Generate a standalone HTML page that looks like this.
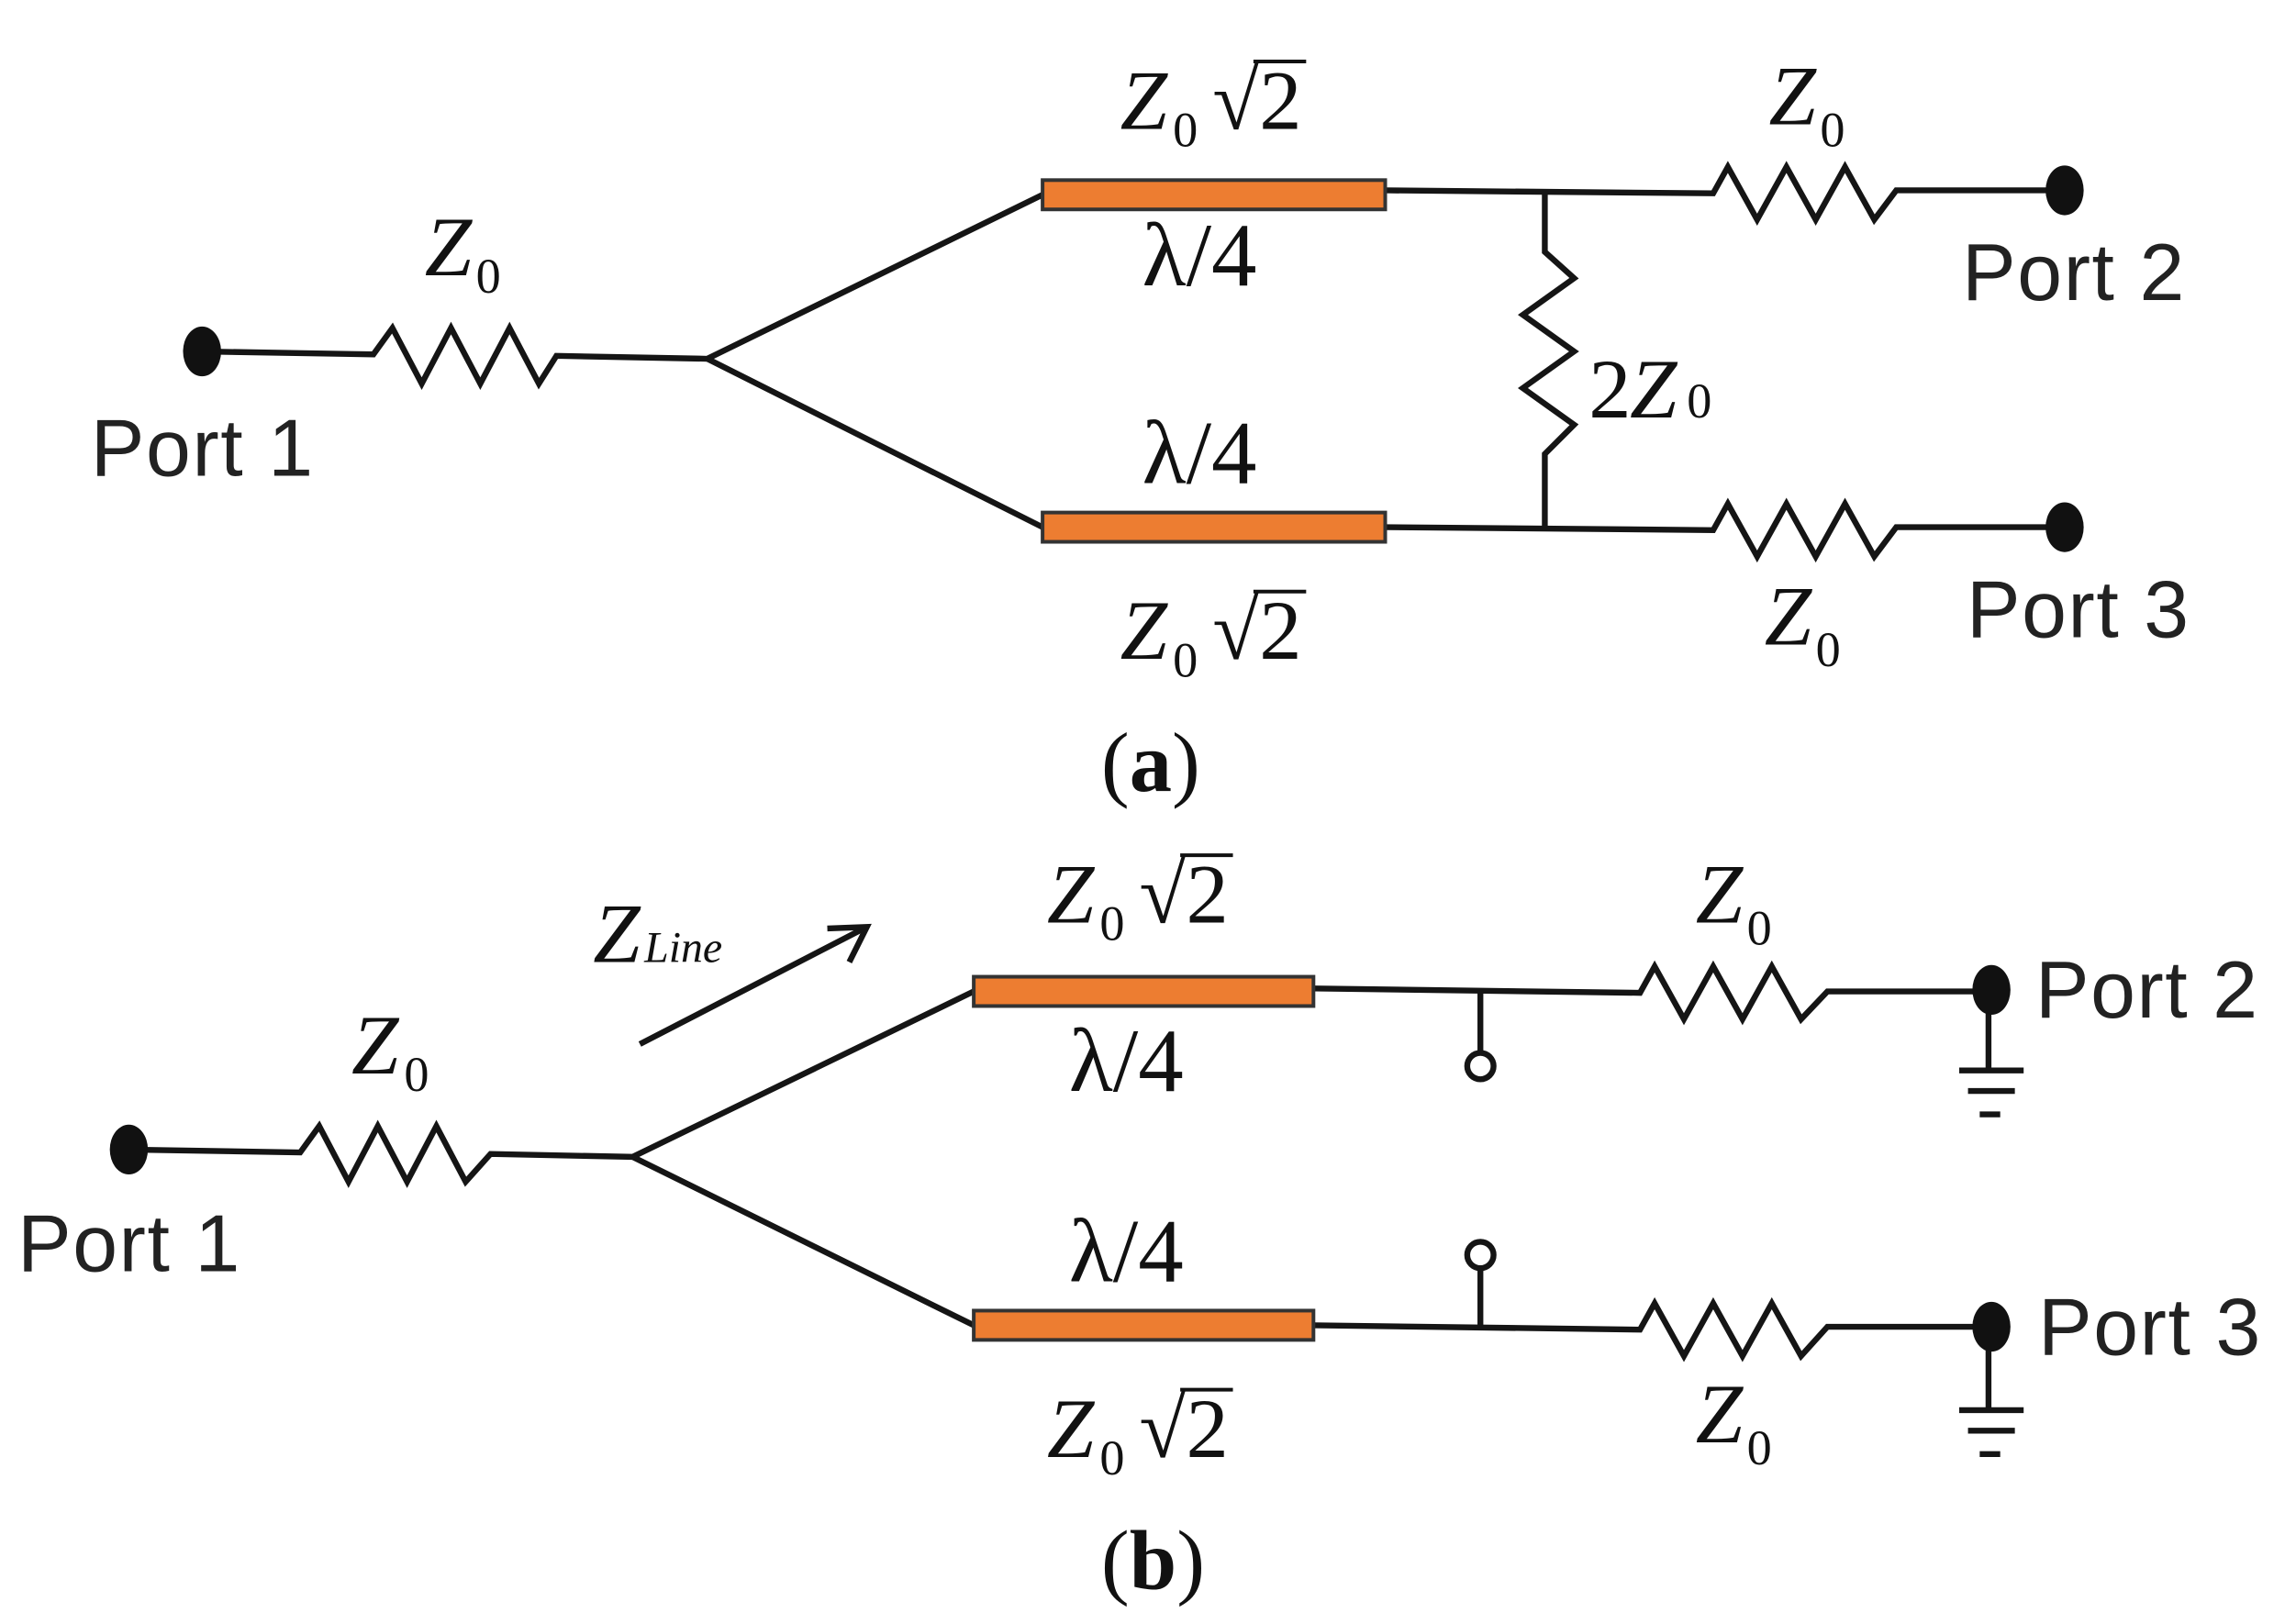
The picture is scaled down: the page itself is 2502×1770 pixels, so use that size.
<!DOCTYPE html>
<html><head><meta charset="utf-8"><style>
html,body{margin:0;padding:0;background:#fff;}
svg{display:block;}
.z{font-family:"Liberation Serif",serif;font-style:italic;font-size:58px;fill:#111;}
.s{font-family:"Liberation Serif",serif;font-size:34px;fill:#111;}
.n{font-family:"Liberation Serif",serif;font-size:58px;fill:#111;}
.l{font-family:"Liberation Serif",serif;font-size:62px;fill:#111;}
.p{font-family:"Liberation Sans",sans-serif;font-size:55px;fill:#222;letter-spacing:1px;}
</style></head><body>
<svg width="2502" height="1770" viewBox="0 0 1568 1109" preserveAspectRatio="none" xmlns="http://www.w3.org/2000/svg">
<defs>
<g id="sq"><text class="n" x="0" y="0">√</text><line x1="28" y1="-46" x2="64" y2="-46" stroke="#111" stroke-width="2.5"/><text class="n" x="32" y="0">2</text></g>
</defs>
<g fill="none" stroke="#151515" stroke-width="4" stroke-linejoin="miter">
<polyline points="138,240 255,242 268,224 288,262 308,224 328,262 348,224 368,262 380,243 483,245 712,133"/>
<polyline points="483,245 712,360"/>
<polyline points="946,130 1170,132 1180,114 1200,150 1220,114 1240,150 1260,114 1280,150 1295,130 1408,130"/>
<polyline points="946,360 1170,362 1180,344 1200,380 1220,344 1240,380 1260,344 1280,380 1295,360 1408,360"/>
<polyline points="1055,132 1055,172 1075,190 1040,215 1075,240 1040,265 1075,290 1055,310 1055,360"/>
<polyline points="88,785 205,787 218,769 238,807 258,769 278,807 298,769 318,807 335,788 432,790 665,677"/>
<polyline points="432,790 665,905"/>
<polyline points="897,675 1120,678 1130,660 1150,696 1170,660 1190,696 1210,660 1230,696 1248,677 1358,677"/>
<polyline points="897,905 1120,908 1130,890 1150,926 1170,890 1190,926 1210,890 1230,926 1248,906 1358,906"/>
<line x1="1011" y1="677" x2="1011" y2="718"/>
<line x1="1011" y1="905" x2="1011" y2="867"/>
<circle cx="1011" cy="728" r="9" stroke-width="4"/>
<circle cx="1011" cy="857" r="9" stroke-width="4"/>
<line x1="1358" y1="677" x2="1358" y2="731"/>
<line x1="1358" y1="906" x2="1358" y2="963"/>
<line x1="437" y1="713" x2="590" y2="634"/>
<polyline points="565,634 592,633 580,657"/>
</g>
<g fill="#151515" stroke="#151515" stroke-width="4">
<line x1="1338" y1="731" x2="1382" y2="731"/><line x1="1344" y1="745" x2="1376" y2="745"/><line x1="1352" y1="761" x2="1366" y2="761"/>
<line x1="1338" y1="963" x2="1382" y2="963"/><line x1="1344" y1="977" x2="1376" y2="977"/><line x1="1352" y1="993" x2="1366" y2="993"/>
</g>
<g fill="#111">
<ellipse cx="138" cy="240" rx="13" ry="17"/>
<ellipse cx="1410" cy="130" rx="13" ry="17"/>
<ellipse cx="1410" cy="360" rx="13" ry="17"/>
<ellipse cx="88" cy="785" rx="13" ry="17"/>
<ellipse cx="1360" cy="676" rx="13" ry="17"/>
<ellipse cx="1360" cy="906" rx="13" ry="17"/>
</g>
<g fill="#ED7D31" stroke="#333" stroke-width="2.5">
<rect x="712" y="123" width="234" height="20"/>
<rect x="712" y="350" width="234" height="20"/>
<rect x="665" y="667" width="232" height="20"/>
<rect x="665" y="895" width="232" height="20"/>
</g>
<text class="z" x="290" y="188">Z</text><text class="s" x="325" y="200">0</text>
<text class="z" x="765" y="88">Z</text><text class="s" x="801" y="100">0</text><use href="#sq" x="828" y="88"/>
<text class="l" x="780" y="195">λ/4</text>
<text class="l" x="780" y="330">λ/4</text>
<text class="z" x="765" y="450">Z</text><text class="s" x="801" y="462">0</text><use href="#sq" x="828" y="450"/>
<text class="z" x="1208" y="85">Z</text><text class="s" x="1243" y="100">0</text>
<text class="z" x="1205" y="440">Z</text><text class="s" x="1240" y="455">0</text>
<text class="n" x="1085" y="285">2</text><text class="z" x="1113" y="285">Z</text><text class="s" x="1152" y="285">0</text>
<text class="p" x="62" y="325">Port 1</text>
<text class="p" x="1340" y="205">Port 2</text>
<text class="p" x="1343" y="435">Port 3</text>
<text class="n" x="752" y="540">(<tspan font-weight="bold">a</tspan>)</text>
<text class="z" x="240" y="733">Z</text><text class="s" x="276" y="745">0</text>
<text class="z" x="405" y="657">Z</text><text class="z" x="440" y="657" style="font-size:30px">Line</text>
<text class="z" x="715" y="630">Z</text><text class="s" x="751" y="642">0</text><use href="#sq" x="778" y="630"/>
<text class="l" x="730" y="745">λ/4</text>
<text class="l" x="730" y="875">λ/4</text>
<text class="z" x="715" y="995">Z</text><text class="s" x="751" y="1007">0</text><use href="#sq" x="778" y="995"/>
<text class="z" x="1158" y="630">Z</text><text class="s" x="1193" y="645">0</text>
<text class="z" x="1158" y="985">Z</text><text class="s" x="1193" y="1000">0</text>
<text class="p" x="12" y="868">Port 1</text>
<text class="p" x="1390" y="695">Port 2</text>
<text class="p" x="1392" y="925">Port 3</text>
<text class="n" x="752" y="1085">(<tspan font-weight="bold">b</tspan>)</text>
</svg>
</body></html>
